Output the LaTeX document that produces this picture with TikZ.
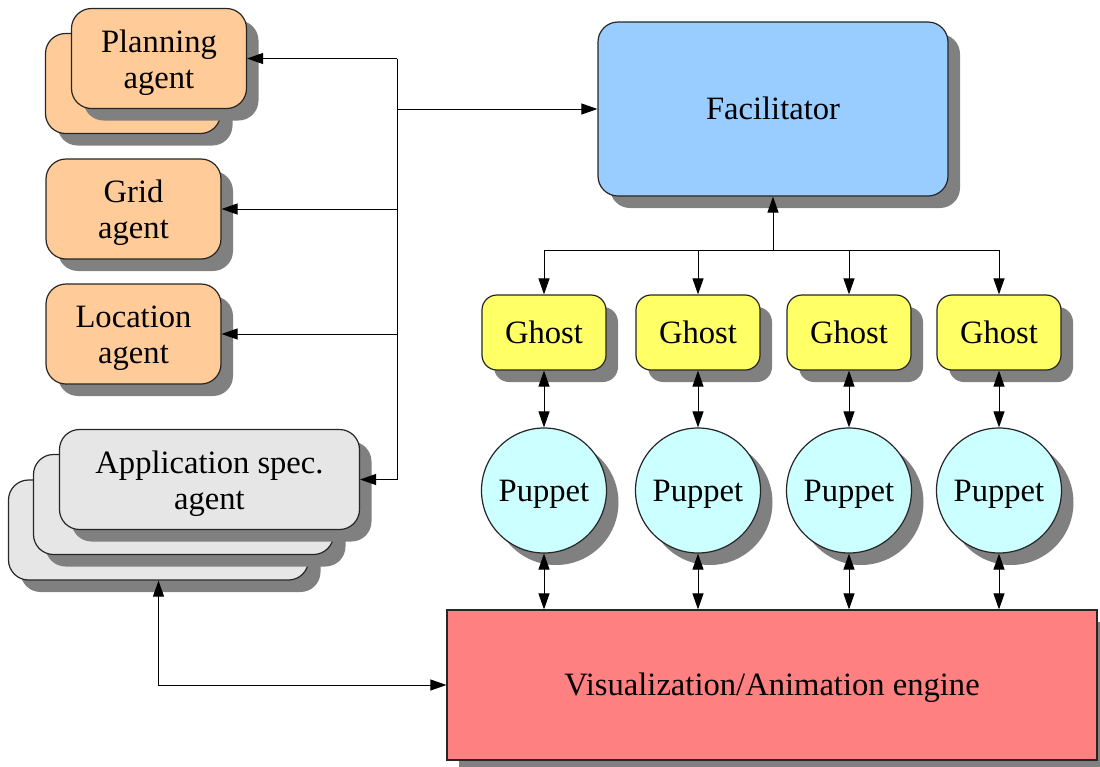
\documentclass[tikz,border=0pt]{standalone}
\usepackage{fontspec}
\setmainfont{Liberation Serif}
\usetikzlibrary{shadows,arrows.meta}
\definecolor{peach}{HTML}{FFCC99}
\definecolor{facblue}{HTML}{99CCFF}
\definecolor{ghostyellow}{HTML}{FFFF66}
\definecolor{puppetcyan}{HTML}{CCFFFF}
\definecolor{enginered}{HTML}{FF8080}
\definecolor{appgray}{HTML}{E6E6E6}
\definecolor{shadowgray}{HTML}{808080}
\begin{document}
\begin{tikzpicture}[x=0.5pt,y=-0.5pt,
  every node/.style={font=\fontsize{16.3}{18}\selectfont, align=center, inner sep=0pt},
  oneline/.style={text height=15pt, text depth=4.5pt},
  twoline/.style={text height=34pt, text depth=4.5pt},
  shadowed/.style={drop shadow={shadow xshift=6pt, shadow yshift=-6pt, fill=shadowgray, opacity=1}},
  block/.style={draw=black!85, line width=0.6pt, rounded corners=10pt, shadowed},
  agentbox/.style={block, fill=peach, minimum width=87.5pt, minimum height=50pt, twoline},
  appbox/.style={block, fill=appgray, minimum width=150pt, minimum height=50pt, twoline},
  ghostbox/.style={block, fill=ghostyellow, rounded corners=7.5pt, minimum width=62pt, minimum height=37.5pt, oneline},
  puppetnode/.style={draw=black!85, line width=0.6pt, circle, fill=puppetcyan, minimum size=62.5pt, shadowed, oneline},
  arr/.style={-{Triangle[length=8pt,width=5.5pt]}, line width=0.5pt},
  dbl/.style={{Triangle[length=8pt,width=5.5pt]}-{Triangle[length=8pt,width=5.5pt]}, line width=0.5pt}
]
\useasboundingbox (0,0) rectangle (1100,767);

% agents on the left
\node[agentbox] (planB) at (133,83.5) {};
\node[agentbox] (plan) at (159,58.5) {Planning\\agent};
\node[agentbox] (grid) at (133.5,209) {Grid\\agent};
\node[agentbox] (loc) at (133.5,334) {Location\\agent};

\node[appbox] (appC) at (158.5,530) {};
\node[appbox] (appB) at (183.5,504.5) {};
\node[appbox] (app) at (209.5,479.5) {Application spec.\\agent};

% facilitator
\node[block, oneline, fill=facblue, minimum width=175pt, minimum height=87pt] (fac) at (773,109) {Facilitator};

% ghosts and puppets
\foreach \i/\x in {1/544,2/698,3/849,4/999}{
  \node[ghostbox] (g\i) at (\x,332.5) {Ghost};
  \node[puppetnode] (p\i) at (\x,490.5) {Puppet};
}

% engine
\node[draw=black!85, line width=0.6pt, fill=enginered, minimum width=325pt, minimum height=75pt, shadowed, oneline] (eng) at (772,685) {Visualization/Animation engine};

% bus from facilitator to agents
\coordinate (bus) at (397,0);
\coordinate (gbus) at (0,250);
\draw[line width=0.5pt] (bus |- plan.east) -- (bus |- app.east);
\draw[arr] (bus |- plan.east) -- (plan.east);
\draw[arr] (bus |- grid.east) -- (grid.east);
\draw[arr] (bus |- loc.east) -- (loc.east);
\draw[arr] (bus |- app.east) -- (app.east);
\draw[arr] (bus |- fac.west) -- (fac.west);

% ghost bus
\draw[line width=0.5pt] (g1 |- gbus) -- (g4 |- gbus);
\draw[arr] (fac.south |- gbus) -- (fac.south);
\foreach \i in {1,2,3,4}{
  \draw[arr] (g\i |- gbus) -- (g\i.north);
  \draw[dbl] (g\i.south) -- (p\i.north);
  \draw[dbl] (p\i.south) -- (p\i |- eng.north);
}

% application agents to engine
\draw[dbl] (appC.south) |- (eng.west);
\end{tikzpicture}
\end{document}
